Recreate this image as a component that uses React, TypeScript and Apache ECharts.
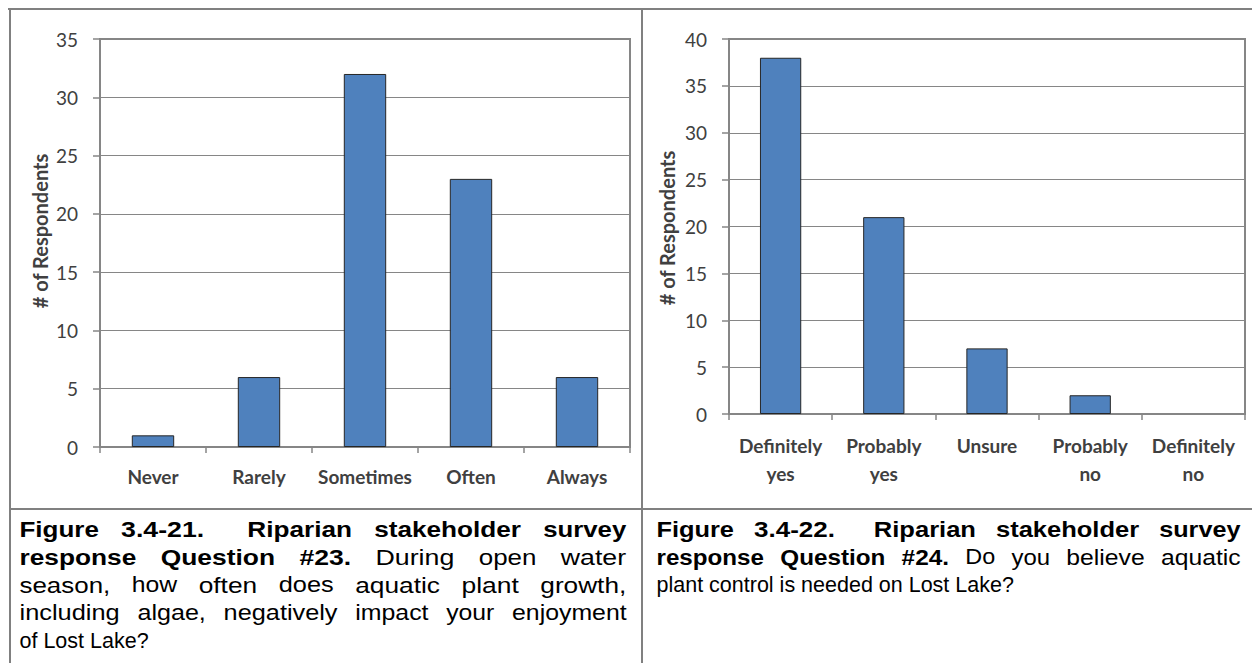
import React, { useEffect, useRef } from "react";
import * as echarts from "echarts";

// ---- data ----
const freqCategories = ["Never", "Rarely", "Sometimes", "Often", "Always"];
const freqValues = [1, 6, 32, 23, 6];
const controlCategories = ["Definitely\nyes", "Probably\nyes", "Unsure", "Probably\nno", "Definitely\nno"];
const controlValues = [38, 21, 7, 2, 0];
const yAxisTitle = "# of Respondents";
const leftYMax = 35;
const rightYMax = 40;
const yInterval = 5;

type Run = { t: string; b: boolean };
const leftCaption: Run[][] = [
  [{ t: "Figure 3.4-21.  Riparian stakeholder survey", b: true }],
  [{ t: "response Question #23.", b: true }, { t: " During open water", b: false }],
  [{ t: "season, how often does aquatic plant growth,", b: false }],
  [{ t: "including algae, negatively impact your enjoyment", b: false }],
  [{ t: "of Lost Lake?", b: false }],
];
const rightCaption: Run[][] = [
  [{ t: "Figure 3.4-22.  Riparian stakeholder survey", b: true }],
  [{ t: "response Question #24.", b: true }, { t: " Do you believe aquatic", b: false }],
  [{ t: "plant control is needed on Lost Lake?", b: false }],
];

const AXIS = "#868686";
const LABEL = "#404040";
const BAR = "#4F81BD";
const BORDER = "#808080";
const CHART_FONT = 'Lato, "Open Sans", sans-serif';
const CAP_FONT = '"Liberation Sans", Arial, sans-serif';
const CAP_SIZE = 21.5;
const SPACE_WEIGHT = 6; // share of justification slack given to a space vs. a letter

let measureCtx: CanvasRenderingContext2D | null = null;
function measure(text: string, bold: boolean): number {
  if (!measureCtx) measureCtx = document.createElement("canvas").getContext("2d");
  measureCtx!.font = `${bold ? "bold " : ""}${CAP_SIZE}px ${CAP_FONT}`;
  return measureCtx!.measureText(text).width;
}

function captionLine(runs: Run[], x0: number, x1: number, baseline: number, justify: boolean) {
  const pieces: { text: string; bold: boolean; w: number; space: boolean }[] = [];
  for (const r of runs) {
    for (const p of r.t.split(/( )/)) {
      if (!p) continue;
      pieces.push({ text: p, bold: r.b, w: measure(p, r.b), space: p === " " });
    }
  }
  const natural = pieces.reduce((s, p) => s + p.w, 0);
  const nSp = pieces.filter((p) => p.space).length;
  const nCh = pieces.filter((p) => !p.space).reduce((s, p) => s + p.text.length, 0);
  const ls = justify ? (x1 - x0 - natural) / (nCh + SPACE_WEIGHT * nSp) : 0;
  let x = x0;
  const els: any[] = [];
  for (const p of pieces) {
    if (p.space) {
      x += p.w + ls * SPACE_WEIGHT;
      continue;
    }
    const grow = ls * (p.text.length - 0.5);
    const sx = (p.w + grow) / p.w;
    els.push({
      type: "text",
      x,
      y: baseline - 0.35 * CAP_SIZE,
      scaleX: sx,
      silent: true,
      style: {
        text: p.text,
        fontSize: CAP_SIZE,
        fontFamily: CAP_FONT,
        fontWeight: p.bold ? "bold" : "normal",
        fill: "#000",
        align: "left",
        verticalAlign: "middle",
      },
    });
    x += p.w + ls * p.text.length;
  }
  return els;
}

function caption(lines: Run[][], x0: number, x1: number) {
  const out: any[] = [];
  lines.forEach((runs, i) => {
    out.push(...captionLine(runs, x0, x1, 537 + i * 27.8, i < lines.length - 1));
  });
  return out;
}

function line(x1: number, y1: number, x2: number, y2: number) {
  return { type: "line", silent: true, shape: { x1, y1, x2, y2 }, style: { stroke: BORDER, lineWidth: 2 } };
}

function xAxis(gridIndex: number, data: string[], margin: number) {
  return {
    type: "category",
    gridIndex,
    data,
    axisLine: { show: true, lineStyle: { color: AXIS, width: 1.5 } },
    axisTick: { show: true, length: 6, lineStyle: { color: AXIS, width: 1.5 } },
    axisLabel: {
      interval: 0,
      margin,
      color: LABEL,
      fontFamily: CHART_FONT,
      fontSize: 19,
      fontWeight: "bold",
      lineHeight: 28,
    },
  };
}

function yAxis(gridIndex: number, max: number) {
  return {
    type: "value",
    gridIndex,
    min: 0,
    max,
    interval: yInterval,
    axisLine: { show: true, lineStyle: { color: AXIS, width: 1.5 } },
    axisTick: { show: true, length: 7, lineStyle: { color: AXIS, width: 1.5 } },
    splitLine: { show: true, lineStyle: { color: AXIS, width: 1.2 } },
    axisLabel: { margin: 22, color: LABEL, fontFamily: CHART_FONT, fontSize: 19 },
  };
}

function barSeries(idx: number, data: number[]) {
  return {
    type: "bar",
    xAxisIndex: idx,
    yAxisIndex: idx,
    data: data.map((v) => (v === 0 ? { value: v, itemStyle: { borderWidth: 0 } } : v)),
    barWidth: "40%",
    itemStyle: { color: BAR, borderColor: "#262626", borderWidth: 1 },
  };
}

function axisTitle(x: number, y: number) {
  return {
    type: "text",
    x,
    y,
    rotation: Math.PI / 2,
    silent: true,
    style: {
      text: yAxisTitle,
      fontFamily: CHART_FONT,
      fontSize: 20,
      fontWeight: "bold",
      fill: LABEL,
      align: "center",
      verticalAlign: "middle",
    },
  };
}

export default function App() {
  const ref = useRef<HTMLDivElement>(null);
  useEffect(() => {
    const chart = echarts.init(ref.current!, undefined, { renderer: "svg" });
    chart.setOption({
      animation: false,
      backgroundColor: "#fff",
      grid: [
        { left: 100, top: 39, width: 530, height: 408, show: true, borderColor: AXIS, borderWidth: 2 },
        { left: 729, top: 39, width: 516, height: 375, show: true, borderColor: AXIS, borderWidth: 2 },
      ],
      xAxis: [xAxis(0, freqCategories, 15), xAxis(1, controlCategories, 17)],
      yAxis: [yAxis(0, leftYMax), yAxis(1, rightYMax)],
      series: [barSeries(0, freqValues), barSeries(1, controlValues)],
      graphic: [
        line(8, 9, 1252, 9),
        line(10, 8, 10, 663),
        line(642, 8, 642, 663),
        line(10, 509, 1252, 509),
        axisTitle(40, 231),
        axisTitle(667, 228),
        ...caption(leftCaption, 19.5, 627.5),
        ...caption(rightCaption, 656.5, 1241.5),
      ],
    });
    return () => chart.dispose();
  }, []);
  return (
    <div
      ref={ref}
      style={{ position: "fixed", left: 0, top: 0, width: 1252, height: 663, background: "#fff" }}
    />
  );
}
